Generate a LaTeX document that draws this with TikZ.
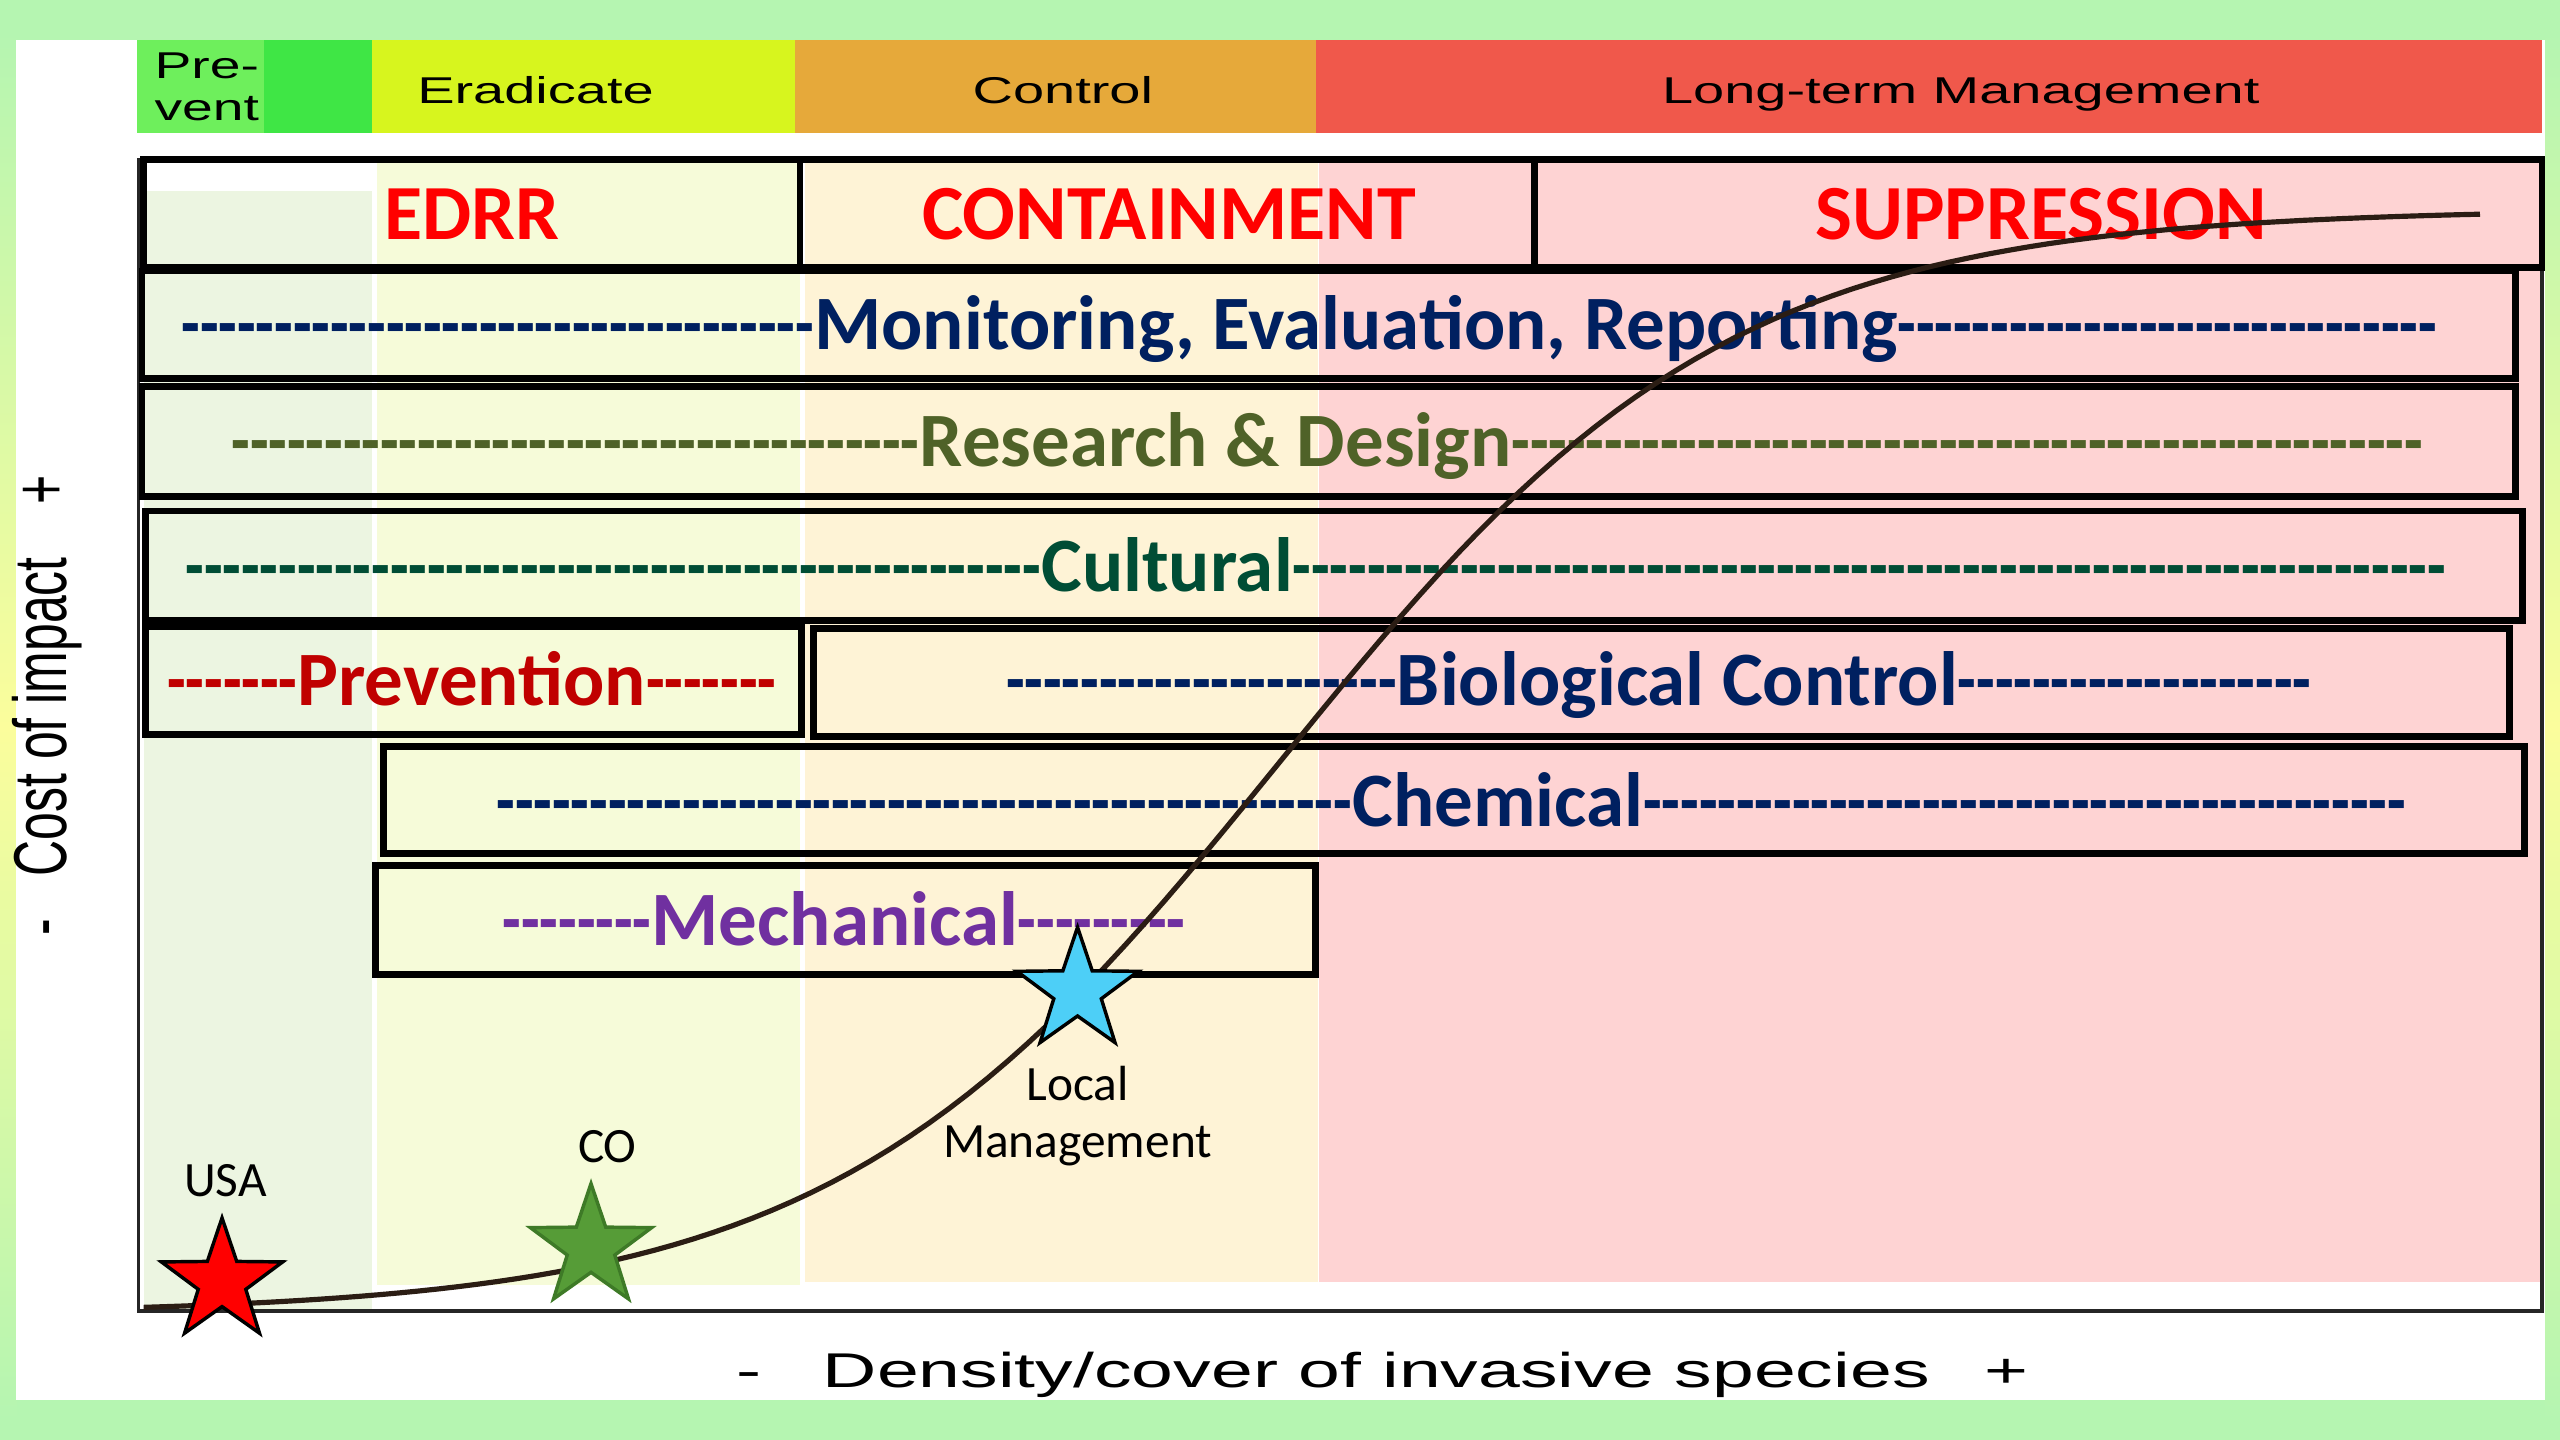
\documentclass[tikz,border=0pt]{standalone}
\usepackage{fontspec}
\usepackage{graphicx}
\usetikzlibrary{shapes.geometric}
\newfontfamily\calibrif{Carlito}
\newfontfamily\arialf{Liberation Sans}

\definecolor{bggreen}{HTML}{B5F5B1}
\definecolor{bgyellow}{HTML}{FBFD9C}
\definecolor{barA}{HTML}{6EEF5C}
\definecolor{barB}{HTML}{3FE645}
\definecolor{barC}{HTML}{D7F51E}
\definecolor{barD}{HTML}{E6A93A}
\definecolor{barE}{HTML}{F0584B}
\definecolor{zgreen}{HTML}{ECF5E1}
\definecolor{zyellow}{HTML}{F6FBD9}
\definecolor{zorange}{HTML}{FEF3D6}
\definecolor{zpink}{HTML}{FED3D3}
\definecolor{navy}{HTML}{002060}
\definecolor{olive}{HTML}{4F6228}
\definecolor{teal}{HTML}{004D35}
\definecolor{darkred}{HTML}{C00000}
\definecolor{purple}{HTML}{7030A0}
\definecolor{curvec}{HTML}{2B1D14}
\definecolor{starred}{HTML}{FF0000}
\definecolor{stargreen}{HTML}{569C37}
\definecolor{stargreenline}{HTML}{3E7A27}
\definecolor{starblue}{HTML}{4DCFF7}

% a run of n hyphens, slightly condensed
\newcount\dashn
\newcommand\dashrun[1]{\scalebox{0.79}[1]{\dashn=#1\relax\loop\ifnum\dashn>0 -\kern0pt\advance\dashn by -1 \repeat}}

\tikzset{
  rowbox/.style={draw=black, line width=1.2pt},
  rowtxt/.style={anchor=base, inner sep=0pt, font=\calibrif\bfseries\fontsize{13.4}{16}\selectfont},
  phasetxt/.style={anchor=base, inner sep=0pt, text=starred, font=\calibrif\bfseries\fontsize{13.6}{16}\selectfont},
  lbl/.style={anchor=base, inner sep=0pt, align=center, font=\calibrif\fontsize{8.6}{10}\selectfont},
  bartxt/.style={anchor=base, inner sep=0pt},
  axtxt/.style={anchor=base, inner sep=0pt},
  starmark/.style={star, star points=5, star point ratio=2.55, inner sep=0pt, minimum size=0.78cm, line width=0.6pt},
}

\begin{document}
\begin{tikzpicture}[x=0.01cm, y=-0.01cm]
\useasboundingbox (0,0) rectangle (1568,882);

% backdrop and white panel
\fill[bggreen] (0,0) rectangle (1568,882);
\shade[top color=bggreen, bottom color=bggreen, middle color=bgyellow] (0,20) rectangle (10,870);
\shade[top color=bggreen, bottom color=bggreen, middle color=bgyellow] (1559,20) rectangle (1568,870);
\fill[white] (10,24.5) rectangle (1559,857.5);

% management phase bar
\fill[barA] (84,24.5) rectangle (162,81.5);
\fill[barB] (162,24.5) rectangle (228,81.5);
\fill[barC] (228,24.5) rectangle (487,81.5);
\fill[barD] (487,24.5) rectangle (806,81.5);
\fill[barE] (806,24.5) rectangle (1557,81.5);
\node[bartxt, anchor=base west] (prevent) at (94,48)
  {\scalebox{1.48}[1]{\arialf\fontsize{6.5}{7.5}\selectfont Pre-}};
\node[bartxt, anchor=base west] (prevent2) at (94,74)
  {\scalebox{1.48}[1]{\arialf\fontsize{6.5}{7.5}\selectfont vent}};
\node[bartxt] (eradicate) at (328,63.7)
  {\scalebox{1.5}[1]{\arialf\fontsize{6.5}{7.5}\selectfont Eradicate}};
\node[bartxt] (control) at (651,63.7)
  {\scalebox{1.5}[1]{\arialf\fontsize{6.5}{7.5}\selectfont Control}};
\node[bartxt] (longterm) at (1201,63.7)
  {\scalebox{1.5}[1]{\arialf\fontsize{6.5}{7.5}\selectfont Long-term Management}};

% pale zones behind the plot
\fill[zgreen] (88,117) rectangle (228,803);
\fill[zyellow] (231,99) rectangle (490,787);
\fill[zorange] (493,99) rectangle (807,785);
\fill[zpink] (808,99) rectangle (1556,785);

% axes frame
\draw[line width=0.6pt, black!85] (85,97) -- (85,803) -- (1557,803) -- (1557,97);

% strategy boxes
\draw[rowbox] (88,97.5) rectangle (490,164);
\draw[rowbox] (490,97.5) rectangle (940,164);
\draw[rowbox] (940,97.5) rectangle (1557,164);
\draw[rowbox] (87,166) rectangle (1541,232);
\draw[rowbox] (87,237) rectangle (1541,304);
\draw[rowbox] (89,313) rectangle (1545,380);
\draw[rowbox] (89,384) rectangle (491,450);
\draw[rowbox] (498,385) rectangle (1537,451);
\draw[rowbox] (235,457) rectangle (1546,523);
\draw[rowbox] (230,530) rectangle (806,597);

% box labels
\node[phasetxt] (edrr) at (289,147) {EDRR};
\node[phasetxt] (containment) at (716,147) {CONTAINMENT};
\node[phasetxt] (suppression) at (1250,147) {SUPPRESSION};
\node[rowtxt, text=navy] (monitoring) at (802,214)
  {\dashrun{34}Monitoring, Evaluation, Reporting\dashrun{29}};
\node[rowtxt, text=olive] (research) at (813,286)
  {\dashrun{37}Research \& Design\dashrun{49}};
\node[rowtxt, text=teal] (cultural) at (806,362)
  {\dashrun{46}Cultural\dashrun{62}};
\node[rowtxt, text=darkred] (prevention) at (289,432)
  {\dashrun{7}Prevention\dashrun{7}};
\node[rowtxt, text=navy] (biological) at (1016,432)
  {\dashrun{21}Biological Control\dashrun{19}};
\node[rowtxt, text=navy] (chemical) at (889,506)
  {\dashrun{46}Chemical\dashrun{41}};
\node[rowtxt, text=purple] (mechanical) at (517,579)
  {\dashrun{8}Mechanical\dashrun{9}};

% invasion curve (logistic growth)
\draw[curvec, line width=0.9pt] plot[domain=88:1519, samples=120]
  (\x, {805 - 677/(1+exp(-(\x-784)/137.4))});

% locations
\node[starmark, draw=black, fill=starred] (usa) at (136,785) {};
\node[starmark, draw=stargreenline, fill=stargreen] (co) at (362,764) {};
\node[starmark, draw=black, fill=starblue] (local) at (660,607) {};
\node[lbl] (usaL) at (138,733) {USA};
\node[lbl] (coL) at (372,712) {CO};
\node[lbl] (localL) at (660,709) {Local\\Management};

% axis titles
\node[axtxt] (xminus) at (459,850) {\scalebox{1.54}[1]{\arialf\fontsize{8.5}{10}\selectfont -}};
\node[axtxt] (xtitle) at (843,850) {\scalebox{1.54}[1]{\arialf\fontsize{8.5}{10}\selectfont Density/cover of invasive species}};
\node[axtxt] (xplus) at (1229,850) {\scalebox{1.54}[1]{\arialf\fontsize{8.5}{10}\selectfont +}};
\node[axtxt, rotate=90] (yminus) at (41,568) {\scalebox{1}[1.5]{\arialf\fontsize{8.7}{10}\selectfont -}};
\node[axtxt, rotate=90] (ytitle) at (41,439) {\scalebox{1}[1.5]{\arialf\fontsize{8.7}{10}\selectfont Cost of impact}};
\node[axtxt, rotate=90] (yplus) at (41,300) {\scalebox{1}[1.5]{\arialf\fontsize{8.7}{10}\selectfont +}};
\end{tikzpicture}
\end{document}
